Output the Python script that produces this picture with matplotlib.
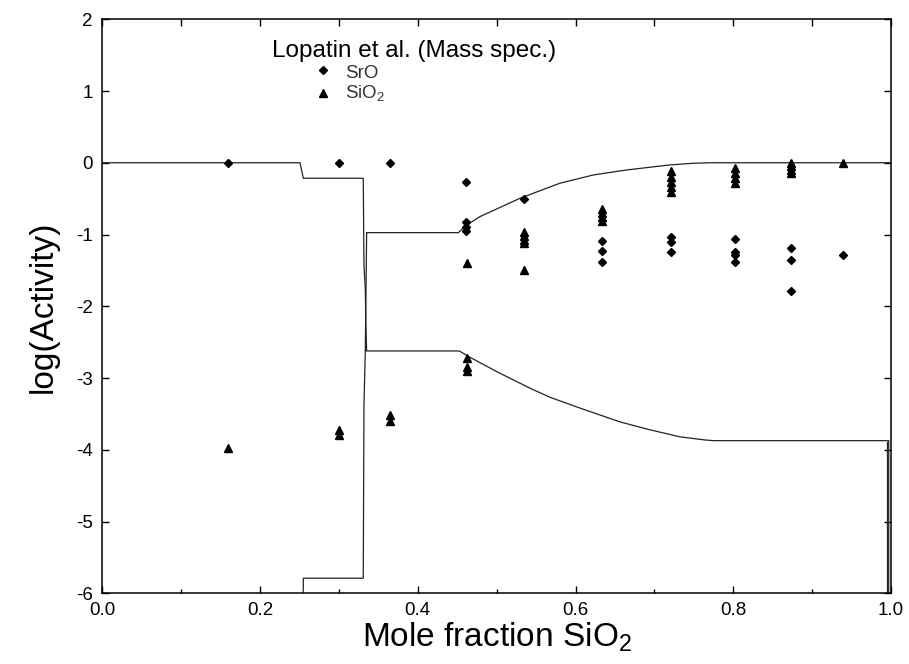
import matplotlib
matplotlib.use("Agg")
import matplotlib.pyplot as plt

plt.rcParams["font.family"] = ["Liberation Sans", "DejaVu Sans"]
plt.rcParams["mathtext.fontset"] = "custom"
plt.rcParams["mathtext.rm"] = "Liberation Sans"
plt.rcParams["axes.unicode_minus"] = False

# Calculated activity curves (x = mole fraction SiO2, y = log activity)
sro_curve_x = [0.0, 0.2507, 0.2549, 0.3309, 0.3312, 0.3318, 0.3335, 0.3343, 0.3352,
               0.4527, 0.466, 0.500, 0.542, 0.568, 0.606, 0.656, 0.690, 0.7325,
               0.764, 0.775, 0.9971, 0.9971]
sro_curve_y = [0.0, 0.0, -0.216, -0.216, -0.62, -1.43, -1.77, -2.30, -2.623,
               -2.623, -2.71, -2.91, -3.14, -3.27, -3.42, -3.61, -3.71, -3.82,
               -3.863, -3.873, -3.873, -6.3]

sio2_curve_x = [0.2536, 0.2549, 0.2549, 0.3309, 0.3312, 0.3318, 0.3335, 0.3352,
                0.4514, 0.462, 0.479, 0.5296, 0.580, 0.6226, 0.665, 0.7198,
                0.749, 0.77, 1.0]
sio2_curve_y = [-6.3, -5.91, -5.79, -5.79, -4.98, -3.38, -2.62, -0.974,
                -0.974, -0.867, -0.75, -0.495, -0.286, -0.17, -0.10, -0.03,
                -0.007, 0.0, 0.0]

sro_edge_x = [0.995, 0.995]
sro_edge_y = [-3.89, -6.3]

# Lopatin et al. mass spectrometry data
sro_x = [0.160, 0.3005, 0.3648,
         0.461, 0.461, 0.461, 0.461,
         0.5347,
         0.633, 0.633, 0.633,
         0.7207, 0.7207, 0.7207,
         0.802, 0.802, 0.802, 0.802,
         0.873, 0.873, 0.873,
         0.9396]
sro_y = [0.0, 0.0, 0.0,
         -0.263, -0.82, -0.89, -0.95,
         -0.509,
         -1.085, -1.225, -1.378,
         -1.04, -1.10, -1.24,
         -1.066, -1.24, -1.285, -1.387,
         -1.19, -1.36, -1.787,
         -1.285]

sio2_x = [0.1598, 0.3005, 0.3005, 0.3648, 0.3648,
          0.462, 0.462, 0.462, 0.462,
          0.5347, 0.5347, 0.5347, 0.5347, 0.5347,
          0.633, 0.633, 0.633, 0.633,
          0.7207, 0.7207, 0.7207, 0.7207, 0.7207,
          0.802, 0.802, 0.802, 0.802,
          0.873, 0.873, 0.873, 0.873,
          0.9396]
sio2_y = [-3.98, -3.72, -3.79, -3.52, -3.60,
          -1.40, -2.72, -2.85, -2.90,
          -0.97, -1.02, -1.07, -1.12, -1.49,
          -0.64, -0.70, -0.75, -0.81,
          -0.12, -0.20, -0.27, -0.34, -0.41,
          -0.07, -0.14, -0.21, -0.28,
          -0.01, -0.05, -0.10, -0.14,
          0.0]

x_ticks = [0.0, 0.2, 0.4, 0.6, 0.8, 1.0]
x_tick_labels = ["0.0", "0.2", "0.4", "0.6", "0.8", "1.0"]
y_ticks = [-6, -5, -4, -3, -2, -1, 0, 1, 2]

fig = plt.figure(figsize=(9.09, 6.64), dpi=100)
ax = fig.add_axes([0.1125, 0.1065, 0.8677, 0.8645])

line_kw = dict(color="#222222", linewidth=0.9)
ax.plot(sro_curve_x, sro_curve_y, **line_kw)
ax.plot(sio2_curve_x, sio2_curve_y, **line_kw)
ax.plot(sro_edge_x, sro_edge_y, **line_kw)

ax.plot(sro_x, sro_y, linestyle="none", marker="D", markersize=4.2, color="black")
ax.plot(sio2_x, sio2_y, linestyle="none", marker="^", markersize=6.2, color="black")

ax.set_xlim(0, 1)
ax.set_ylim(-6, 2)
ax.set_xticks(x_ticks)
ax.set_xticklabels(x_tick_labels)
ax.set_xticks([0.1, 0.3, 0.5, 0.7, 0.9], minor=True)
ax.set_yticks(y_ticks)
ax.set_yticklabels([str(v) for v in y_ticks])

ax.tick_params(axis="x", which="major", direction="in", length=5, width=1,
               labelsize=13.5, pad=6, top=False)
ax.tick_params(axis="x", which="minor", direction="in", length=3, width=1, top=False)
ax.tick_params(axis="y", which="major", direction="in", length=5, width=1,
               labelsize=13.5, pad=7, right=True)

top = ax.secondary_xaxis("top")
top.set_xticks([0.1 * i for i in range(11)])
top.tick_params(direction="in", length=5, width=1, labeltop=False)
top.spines["top"].set_visible(False)

for s in ax.spines.values():
    s.set_linewidth(1.1)

ax.set_xlabel("Mole fraction SiO$_\\mathregular{2}$", fontsize=24, labelpad=1)
ax.set_ylabel("log(Activity)", fontsize=24, labelpad=12)

# Legend block
ax.text(0.2152, 0.9347, "Lopatin et al. (Mass spec.)", transform=ax.transAxes,
        fontsize=17.5, va="baseline", ha="left")
ax.plot([0.2798], [0.9117], transform=ax.transAxes, marker="D", markersize=4.2,
        color="black", linestyle="none")
ax.text(0.3077, 0.8977, "SrO", transform=ax.transAxes, fontsize=13.5,
        va="baseline", ha="left", color="#333333")
ax.plot([0.2798], [0.8716], transform=ax.transAxes, marker="^", markersize=6.2,
        color="black", linestyle="none")
ax.text(0.3077, 0.861, "SiO$_\\mathregular{2}$", transform=ax.transAxes,
        fontsize=13.5, va="baseline", ha="left", color="#333333")

fig.savefig("out.png", dpi=100)
